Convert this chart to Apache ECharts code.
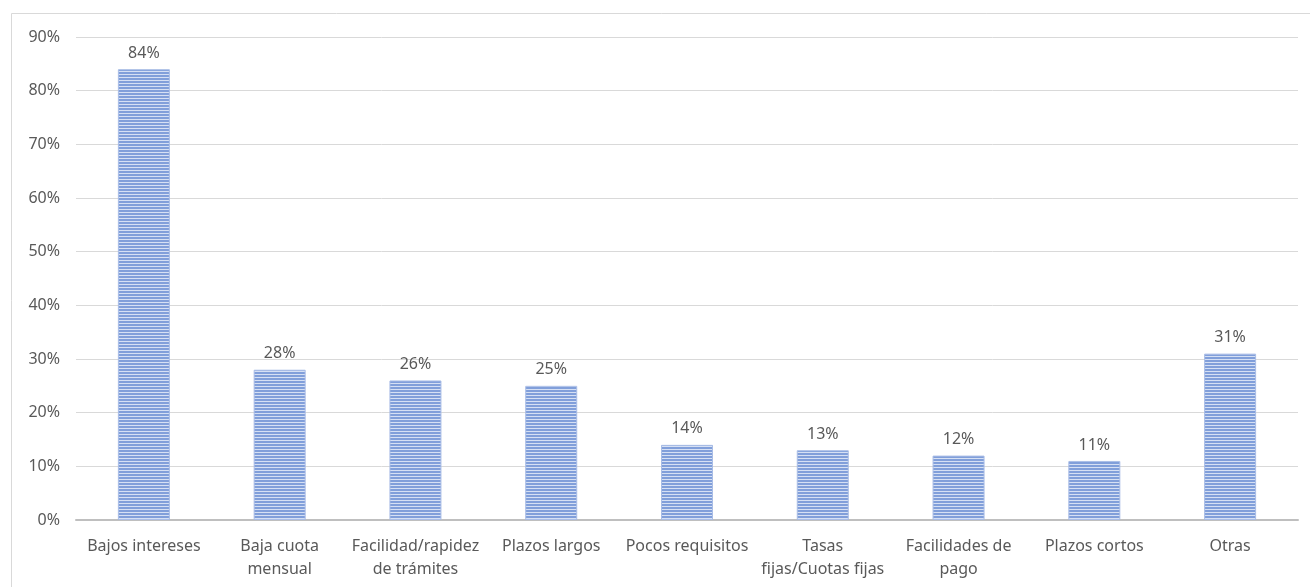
<!DOCTYPE html>
<html>
<head>
<meta charset="utf-8">
<script src="https://cdn.jsdelivr.net/npm/echarts@6/dist/echarts.min.js"></script>
<style>
  html, body { margin: 0; padding: 0; background: #ffffff; }
  #chart { width: 1310px; height: 587px; }
</style>
</head>
<body>
<div id="chart"></div>
<script>
// Motivos de elección del crédito (porcentaje de respuestas)
const categories = [
  'Bajos intereses',
  'Baja cuota\nmensual',
  'Facilidad/rapidez\nde trámites',
  'Plazos largos',
  'Pocos requisitos',
  'Tasas\nfijas/Cuotas fijas',
  'Facilidades de\npago',
  'Plazos cortos',
  'Otras'
];
const values = [84, 28, 26, 25, 14, 13, 12, 11, 31];
const yTicks = [0, 10, 20, 30, 40, 50, 60, 70, 80, 90];

// Horizontal stripe fill for the bars
function stripePattern() {
  const c = document.createElement('canvas');
  c.width = 4; c.height = 3;
  const g = c.getContext('2d');
  g.fillStyle = '#d6e0f4';
  g.fillRect(0, 0, 4, 3);
  g.fillStyle = '#819fda';
  g.fillRect(0, 0, 4, 2);
  return c;
}

const textColor = '#595959';
const fontFamily = '"Noto Sans", "Liberation Sans", sans-serif';

const chart = echarts.init(document.getElementById('chart'), null, { renderer: 'canvas' });
chart.setOption({
  animation: false,
  backgroundColor: '#ffffff',
  graphic: [{
    type: 'rect',
    shape: { x: 11.5, y: 13.5, width: 1320, height: 600 },
    style: { fill: 'none', stroke: '#d9d9d9', lineWidth: 1 },
    silent: true,
    z: -1
  }],
  grid: { left: 76, right: 12, top: 37, bottom: 67, containLabel: false },
  xAxis: {
    type: 'category',
    data: categories,
    axisTick: { show: false },
    axisLine: { lineStyle: { color: '#bfbfbf', width: 2 } },
    axisLabel: {
      interval: 0,
      margin: 15,
      color: textColor,
      fontFamily: fontFamily,
      fontSize: 16,
      lineHeight: 23
    }
  },
  yAxis: {
    type: 'value',
    min: yTicks[0],
    max: yTicks[yTicks.length - 1],
    interval: 10,
    axisLine: { show: false },
    axisTick: { show: false },
    splitLine: { lineStyle: { color: '#d9d9d9', width: 1 } },
    axisLabel: {
      margin: 16,
      color: textColor,
      fontFamily: fontFamily,
      fontSize: 16,
      formatter: v => v + '%'
    }
  },
  series: [{
    type: 'bar',
    data: values,
    barWidth: 52,
    itemStyle: {
      color: { image: stripePattern(), repeat: 'repeat' },
      borderColor: '#a9bde6',
      borderWidth: 1
    },
    label: {
      show: true,
      position: 'top',
      distance: 8,
      color: textColor,
      fontFamily: fontFamily,
      fontSize: 16,
      formatter: p => p.value + '%'
    }
  }]
});
</script>
</body>
</html>
